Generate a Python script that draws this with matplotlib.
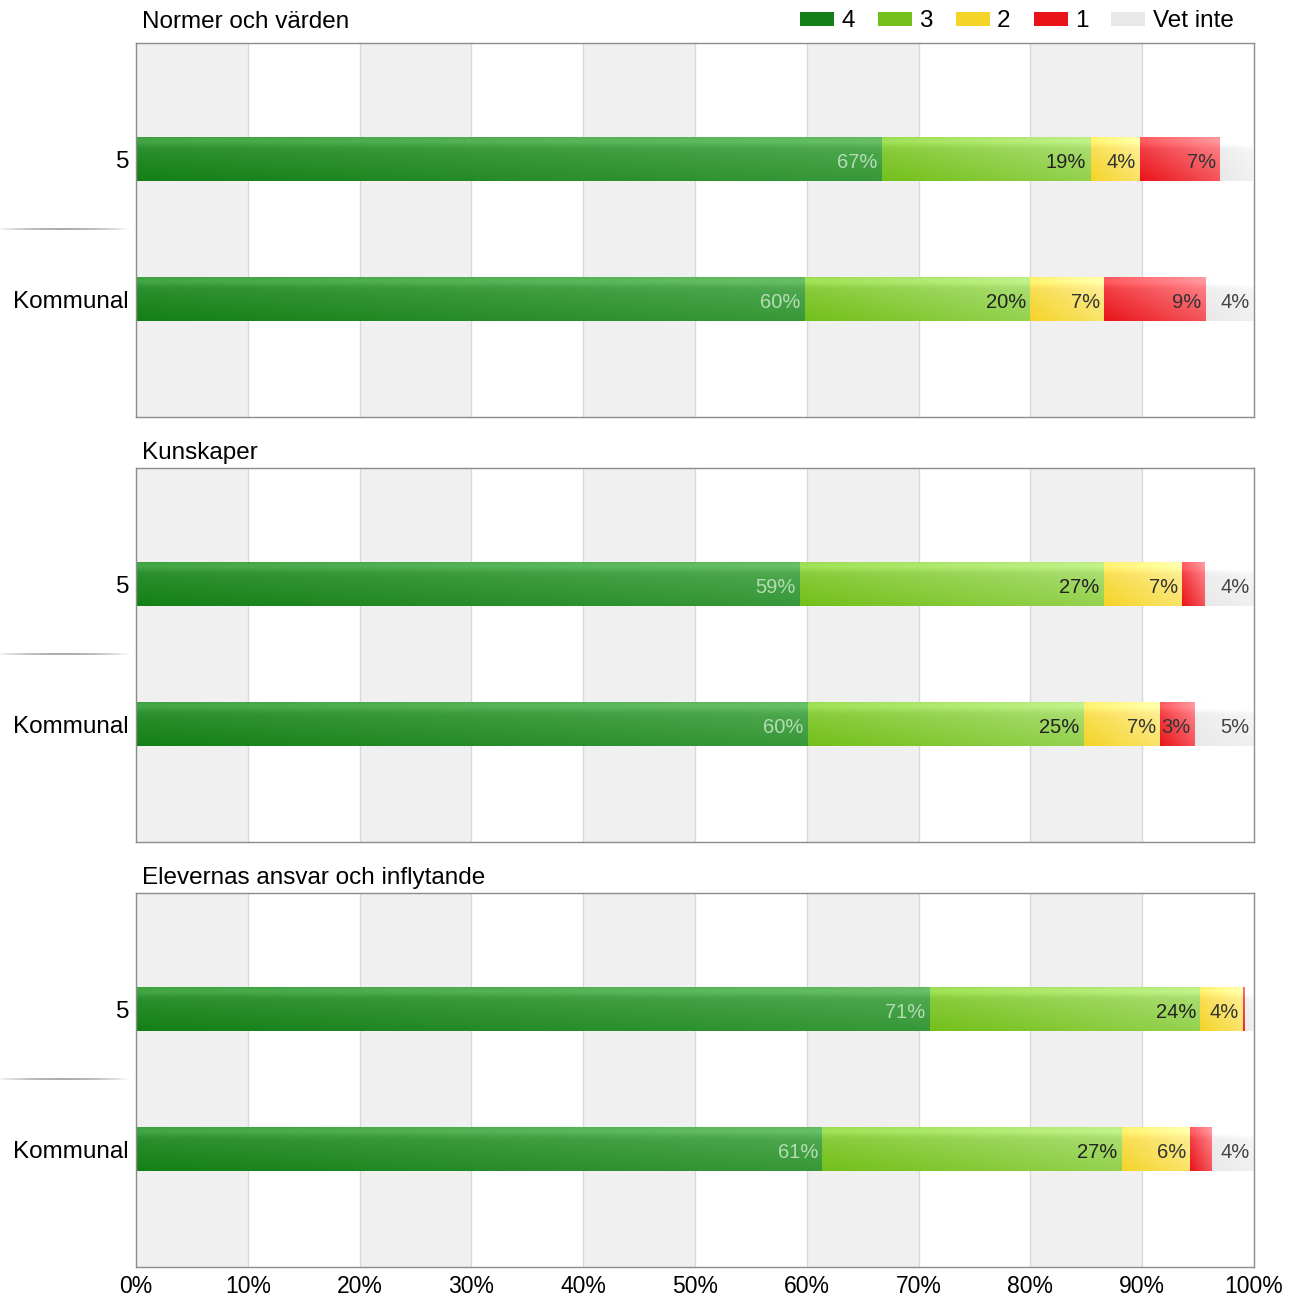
import matplotlib.pyplot as plt
import numpy as np
from matplotlib.colors import to_rgb
from matplotlib.patches import Patch
from matplotlib.collections import LineCollection
import matplotlib.transforms as mtransforms

plt.rcParams['font.family'] = ['Liberation Sans', 'DejaVu Sans']

# data (percent per answer)
panels = ['Normer och värden', 'Kunskaper', 'Elevernas ansvar och inflytande']
groups = ['5', 'Kommunal']
answers = ['4', '3', '2', '1', 'Vet inte']

norm_5 = [66.7, 18.7, 4.4, 7.2, 2.9]
norm_kom = [59.8, 20.2, 6.6, 9.1, 4.3]
kun_5 = [59.4, 27.2, 7.0, 2.0, 4.4]
kun_kom = [60.1, 24.7, 6.8, 3.1, 5.3]
ans_5 = [71.0, 24.2, 3.8, 0.2, 0.8]
ans_kom = [61.4, 26.8, 6.1, 1.9, 3.8]
panel_values = [[norm_5, norm_kom], [kun_5, kun_kom], [ans_5, ans_kom]]

# dark / light end of each gradient
dark = ['#147f17', '#73c01a', '#f5d428', '#e8141a', '#e8e8e8']
light = ['#55ad55', '#b0e07a', '#fdf0a0', '#ff8a90', '#f8f8f8']
label_col = ['#b5dcb5', '#222222', '#333333', '#333333', '#444444']

BAR_H = 0.314


def gradient(c0, c1, n=40, m=200):
    c0 = np.array(to_rgb(c0))
    c1 = np.array(to_rgb(c1))
    yy, xx = np.mgrid[0:1:n * 1j, 0:1:m * 1j]
    t = 0.55 * xx + 0.45 * (1 - yy)  # row 0 is top
    t = np.clip(t, 0, 1)
    img = c0[None, None, :] * (1 - t[..., None]) + c1[None, None, :] * t[..., None]
    hl = np.exp(-((yy - 0.08) / 0.12) ** 2)[..., None] * 0.08
    return np.clip(img + hl, 0, 1)


fig = plt.figure(figsize=(12.92, 13.03), dpi=100)
bottoms = [0.68, 0.3538, 0.0276]
title_off = [15, 9, 9]  # px between axes top and title baseline

for p, (title, vals) in enumerate(zip(panels, panel_values)):
    ax = fig.add_axes([0.1053, bottoms[p], 0.8653, 0.287])

    # alternating background bands
    for x0 in range(0, 100, 20):
        ax.axvspan(x0, x0 + 10, color='#f0f0f0', zorder=0, lw=0)
    for x0 in range(10, 100, 10):
        ax.axvline(x0, color='#d9d9d9', lw=1, zorder=0.5)

    for gi, row in enumerate(vals):
        left = 0
        for k, v in enumerate(row):
            ax.imshow(gradient(dark[k], light[k]), extent=(left, left + v, gi + BAR_H / 2, gi - BAR_H / 2),
                      aspect='auto', zorder=2, interpolation='bilinear')
            if v >= 3:
                ax.text(left + v - 0.4, gi + 0.02, f'{round(v)}%', ha='right', va='center',
                        fontsize=14.5, color=label_col[k], zorder=3)
            left += v

    ax.set_xlim(0, 100)
    ax.set_ylim(1.84, -0.83)
    ax.set_yticks(range(len(groups)))
    ax.set_yticklabels(groups, fontsize=17.5)
    ax.tick_params(axis='y', length=0, pad=5)
    ax.set_xticks(np.arange(0, 101, 10))
    if p == 2:
        ax.set_xticklabels([f'{t}%' for t in range(0, 101, 10)], fontsize=16.5)
        ax.tick_params(axis='x', length=0, pad=6)
    else:
        ax.tick_params(axis='x', length=0, labelbottom=False)
    for s in ax.spines.values():
        s.set_color('#8c8c8c')
        s.set_linewidth(1)

    # faint separator between group labels, fading at both ends
    tr = mtransforms.blended_transform_factory(ax.transAxes, ax.transData)
    xs = np.linspace(-0.125, -0.006, 30)
    segs = [[(xs[i], 0.5), (xs[i + 1], 0.5)] for i in range(len(xs) - 1)]
    mid = 0.5 * (xs[:-1] + xs[1:])
    a = 1 - np.abs((mid - mid.mean()) / (xs[-1] - xs[0]) * 2) ** 2
    cols = [(0.45, 0.45, 0.45, 0.7 * ai) for ai in a]
    lc = LineCollection(segs, colors=cols, lw=1.2, transform=tr, clip_on=False)
    ax.add_collection(lc)

    ax.text(0.005, 1 + title_off[p] / 374, title, transform=ax.transAxes, fontsize=17.5,
            va='baseline', ha='left')

handles = [Patch(facecolor=dark[k], edgecolor='none') for k in range(5)]
fig.legend(handles, answers, loc='center right', bbox_to_anchor=(0.968, 0.9835), ncol=5, frameon=False,
           fontsize=17.5, handlelength=1.4, handleheight=0.55, handletextpad=0.3, columnspacing=0.95,
           borderpad=0.2)

fig.savefig('out.png', dpi=100)
